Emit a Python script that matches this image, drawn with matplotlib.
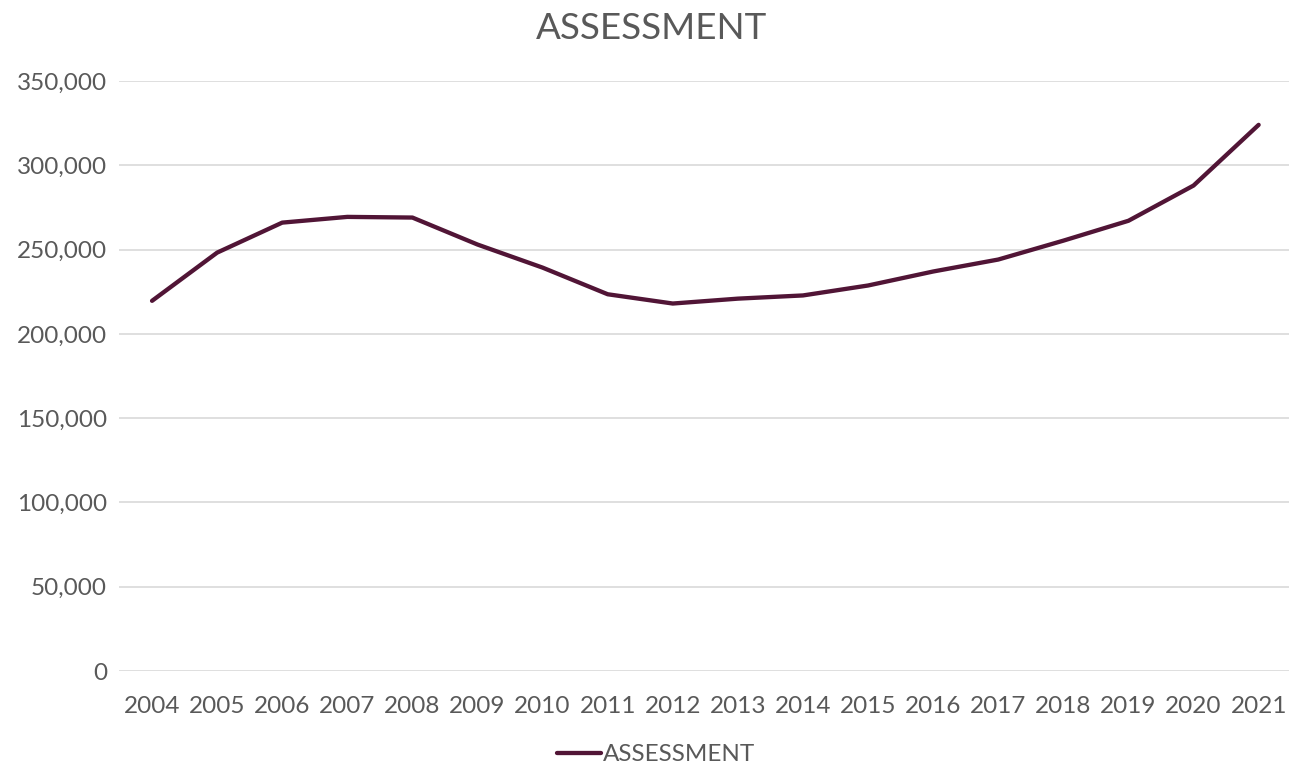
import matplotlib
matplotlib.use("Agg")
from matplotlib import pyplot as plt
from matplotlib.ticker import FuncFormatter

years = ["2004", "2005", "2006", "2007", "2008", "2009", "2010", "2011", "2012",
         "2013", "2014", "2015", "2016", "2017", "2018", "2019", "2020", "2021"]
assessment = [219600, 248200, 266000, 269400, 269000, 253000, 239300, 223500, 218000,
              220900, 222800, 228700, 237000, 244100, 255300, 267100, 288000, 324000]
y_ticks = [0, 50000, 100000, 150000, 200000, 250000, 300000, 350000]

text_color = "#595959"
grid_color = "#d9d9d9"
line_color = "#511536"

plt.rcParams["font.family"] = ["Lato", "DejaVu Sans"]

fig = plt.figure(figsize=(12.89, 7.68), dpi=100)
ax = fig.add_axes([0.0927, 0.1263, 0.909, 0.7682])

x = list(range(len(years)))
ax.plot(x, assessment, color=line_color, linewidth=3.1, solid_capstyle="round",
        solid_joinstyle="round", label="ASSESSMENT", zorder=3)

ax.set_xlim(-0.5, len(years) - 0.5)
ax.set_ylim(0, 350000)
ax.set_yticks(y_ticks)
ax.yaxis.set_major_formatter(FuncFormatter(lambda v, _: f"{int(v):,}"))
ax.set_xticks(x)
ax.set_xticklabels(years)

ax.grid(axis="y", color=grid_color, linewidth=1.2, zorder=0)
for side in ["top", "right", "left", "bottom"]:
    ax.spines[side].set_visible(False)
ax.tick_params(axis="both", length=0, labelsize=17.5, labelcolor=text_color)
ax.tick_params(axis="x", pad=18)
ax.tick_params(axis="y", pad=9)

fig.text(0.5055, 0.963, "ASSESSMENT", ha="center", va="center", fontsize=26.5, color=text_color)

fig.legend(loc="center", bbox_to_anchor=(0.509, 0.017), frameon=False, fontsize=17.5,
           labelcolor=text_color, handlelength=1.8, handletextpad=0.1)

fig.savefig("out.png", dpi=100)
